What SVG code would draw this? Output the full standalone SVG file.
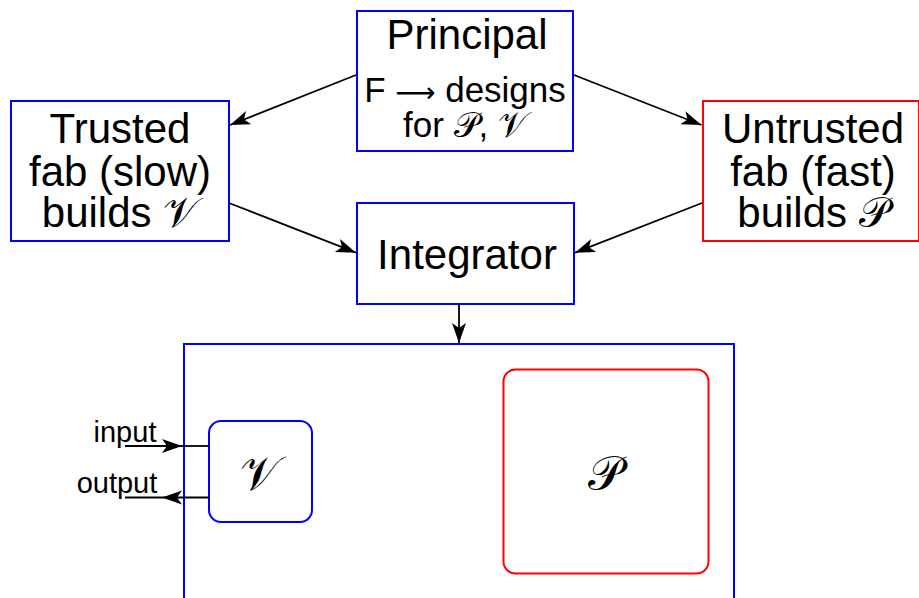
<svg xmlns="http://www.w3.org/2000/svg" width="919" height="598" viewBox="0 0 919 598">
<style>
.box{fill:none;stroke-width:2}
.blue{stroke:#0000ff}
.red{stroke:#ff0000}
.t{font-family:"Liberation Sans",Arial,sans-serif;fill:#000;text-anchor:middle}
.big{font-size:42px}
.mid{font-size:35px}
.small{font-size:29px}
.cal{font-family:"DejaVu Serif","DejaVu Sans","Liberation Serif",serif}
.arr{font-family:"DejaVu Sans",sans-serif;font-size:28px}
.conn{stroke:#000;stroke-width:1.8;fill:none}
</style>
<defs>
<marker id="ah" markerUnits="userSpaceOnUse" viewBox="-21 -8 22 16" refX="0" refY="0" markerWidth="22" markerHeight="16" orient="auto">
<path d="M0,0 L-20,-7 L-15,0 L-20,7 Z" fill="#000"/>
</marker>
</defs>
<g id="principal">
<rect class="box blue" x="357" y="11" width="216" height="140"/>
<text class="t big" x="467" y="49">Principal</text>
<text class="t mid" x="465" y="102">F <tspan class="arr">⟶</tspan> designs</text>
<text class="t mid" x="465" y="137">for <tspan class="cal">𝒫</tspan>, <tspan class="cal">𝒱</tspan></text>
</g>
<g id="trusted">
<rect class="box blue" x="11" y="101" width="218" height="140"/>
<text class="t big" x="120" y="143">Trusted</text>
<text class="t big" x="120" y="186">fab (slow)</text>
<text class="t big" x="120" y="227">builds <tspan class="cal">𝒱</tspan></text>
</g>
<g id="untrusted">
<rect class="box red" x="703" y="101" width="216" height="140"/>
<text class="t big" x="813" y="143">Untrusted</text>
<text class="t big" x="813" y="186">fab (fast)</text>
<text class="t big" x="813" y="227">builds <tspan class="cal">𝒫</tspan></text>
</g>
<g id="integrator">
<rect class="box blue" x="357" y="203" width="217" height="101"/>
<text class="t big" x="467" y="269">Integrator</text>
</g>
<g id="system">
<rect class="box blue" x="184" y="344" width="550" height="270"/>
</g>
<g id="V">
<rect class="box blue" x="209" y="421" width="103" height="101" rx="12"/>
<text class="t cal" x="260" y="490" font-size="48">𝒱</text>
</g>
<g id="P">
<rect class="box red" x="503.5" y="369.5" width="205" height="204" rx="12"/>
<text class="t cal" x="605" y="490" font-size="48">𝒫</text>
</g>
<g id="connectors">
<line class="conn" x1="356" y1="75" x2="230" y2="125" marker-end="url(#ah)"/>
<line class="conn" x1="574" y1="75" x2="701.5" y2="125" marker-end="url(#ah)"/>
<line class="conn" x1="229" y1="203" x2="356" y2="252.7" marker-end="url(#ah)"/>
<line class="conn" x1="702" y1="203" x2="575" y2="252.7" marker-end="url(#ah)"/>
<line class="conn" x1="459" y1="304" x2="459" y2="343" marker-end="url(#ah)"/>
<line class="conn" x1="125" y1="446" x2="182" y2="446" marker-end="url(#ah)"/>
<line class="conn" x1="182" y1="446" x2="209" y2="446"/>
<line class="conn" x1="209" y1="497.5" x2="162" y2="497.5" marker-end="url(#ah)"/>
<line class="conn" x1="162" y1="497.5" x2="125" y2="497.5"/>
<text class="t small" x="125" y="442">input</text>
<text class="t small" x="117" y="493">output</text>
</g>
</svg>
